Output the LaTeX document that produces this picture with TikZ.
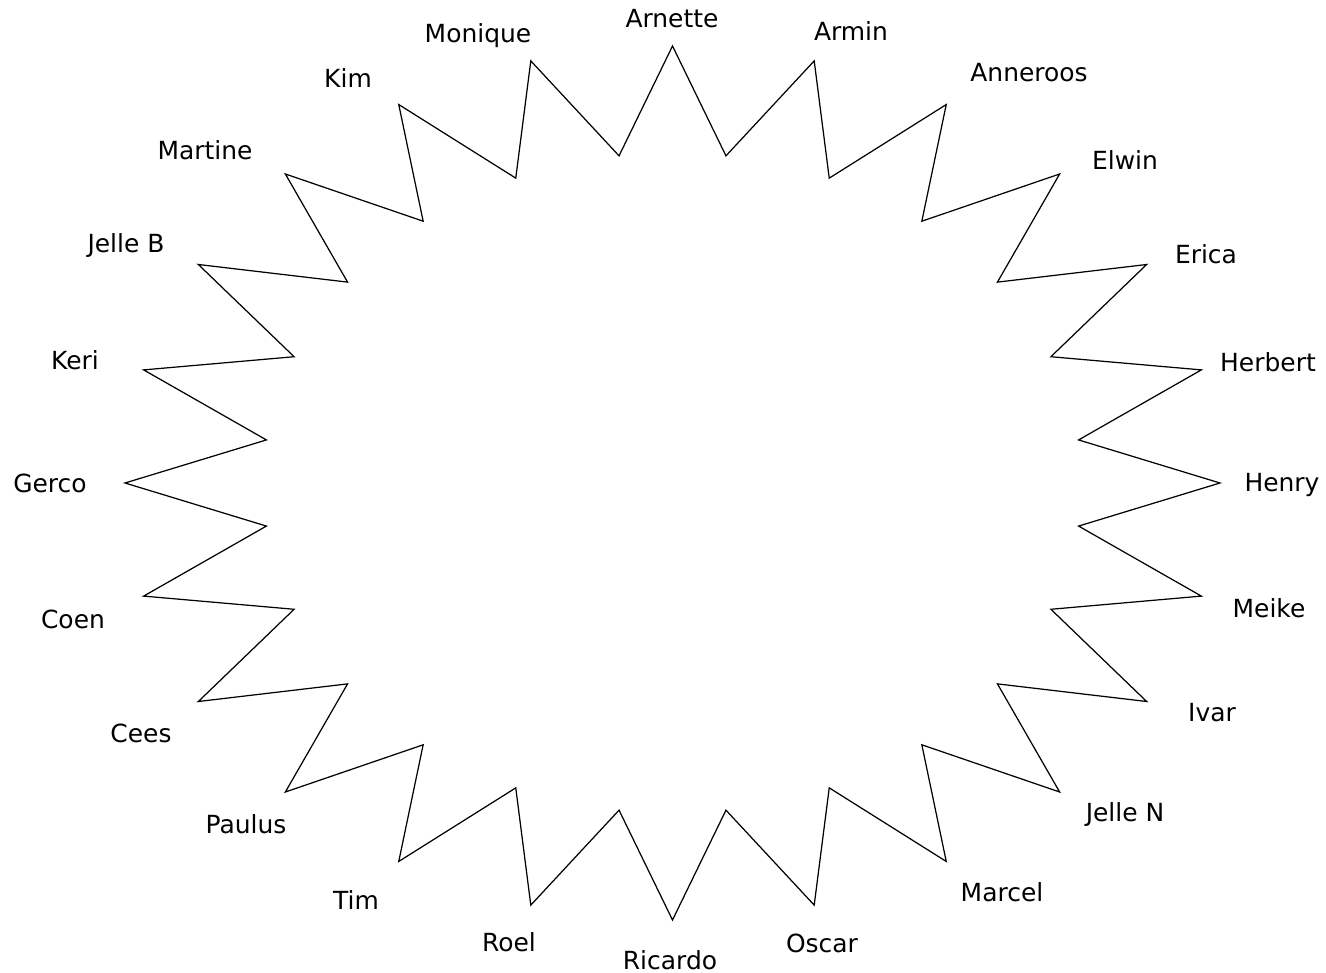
\documentclass[tikz,border=0pt]{standalone}
\usepackage{fontspec}
\setmainfont{DejaVu Sans}
\begin{document}
\begin{tikzpicture}[x=0.02cm, y=-0.02cm,
  spike/.style={draw=black, line width=0.7pt, line join=miter},
  who/.style={font=\fontsize{14.2}{16}\selectfont, inner sep=0pt, text height=10.3pt, text depth=0pt}]
\useasboundingbox (0,0) rectangle (1326,973);
% outer tips and inner notches, pixel units
\foreach \k in {0,...,23} {
  \pgfmathsetmacro{\ao}{90-15*\k}
  \pgfmathsetmacro{\ai}{82.5-15*\k}
  \coordinate (tip\k) at ({672.5+547.5*cos(\ao)},{483-437*sin(\ao)});
  \coordinate (notch\k) at ({672.5+409.6*cos(\ai)},{483-330*sin(\ai)});
}
\draw[spike] (tip0) -- (notch0) \foreach \k in {1,...,23} { -- (tip\k) -- (notch\k) } -- cycle;
% names round the star
\foreach \n/\name/\lx/\ly in {
  0/Arnette/672/18, 1/Armin/851/31, 2/Anneroos/1029/72, 3/Elwin/1125/160,
  4/Erica/1206/254, 5/Herbert/1268/362, 6/Henry/1282/482, 7/Meike/1269/608,
  8/Ivar/1212/712, 9/Jelle N/1125/812, 10/Marcel/1002/892, 11/Oscar/822/943,
  12/Ricardo/670/960, 13/Roel/509/942, 14/Tim/356/900, 15/Paulus/246/824,
  16/Cees/141/733, 17/Coen/73/619, 18/Gerco/50/483, 19/Keri/75/360,
  20/Jelle B/126/243, 21/Martine/205/150, 22/Kim/348/78, 23/Monique/478/33
} {
  \node[who] (lab\n) at (\lx,\ly) {\name};
}
\end{tikzpicture}
\end{document}
